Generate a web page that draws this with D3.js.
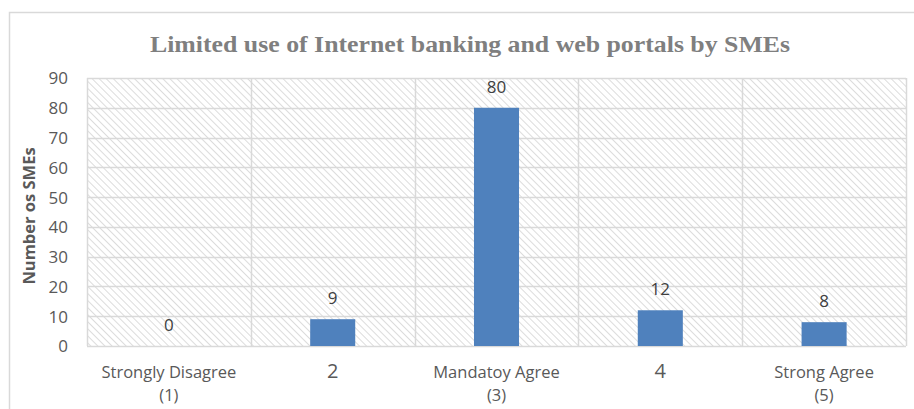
<!DOCTYPE html>
<html>
<head>
<meta charset="utf-8">
<script src="https://cdn.jsdelivr.net/npm/d3@7"></script>
<style>
  html, body { margin: 0; padding: 0; background: #fff; }
  svg { display: block; }
</style>
</head>
<body>
<svg id="chart" width="914" height="409"></svg>
<script>
// Survey responses: limited use of internet banking / web portals
const categories = ["Strongly Disagree\n(1)", "2", "Mandatoy Agree\n(3)", "4", "Strong Agree\n(5)"];
const counts = [0, 9, 80, 12, 8];
const yTicks = [0, 10, 20, 30, 40, 50, 60, 70, 80, 90];
const chartTitle = "Limited use of Internet banking and web portals by SMEs";
const yTitle = "Number os SMEs";

const svg = d3.select("#chart");
const W = 914, H = 409;
const plot = { left: 87, right: 906, top: 78, bottom: 346 };

// outer frame
svg.append("rect")
  .attr("x", 9.5).attr("y", 12.5)
  .attr("width", W + 10).attr("height", H + 10)
  .attr("fill", "#fff").attr("stroke", "#d9d9d9").attr("stroke-width", 1.5);

// diagonal hatch for the plot area
const defs = svg.append("defs");
const pat = defs.append("pattern")
  .attr("id", "hatch")
  .attr("patternUnits", "userSpaceOnUse")
  .attr("width", 5).attr("height", 5)
  .attr("patternTransform", "rotate(45)");
pat.append("rect").attr("width", 5).attr("height", 5).attr("fill", "#fff");
pat.append("line")
  .attr("x1", 0).attr("y1", 0).attr("x2", 5).attr("y2", 0)
  .attr("stroke", "#d4d4d4").attr("stroke-width", 1.6);

const x = d3.scaleBand()
  .domain(categories)
  .range([plot.left, plot.right])
  .paddingInner(0).paddingOuter(0);

const y = d3.scaleLinear().domain([0, 90]).range([plot.bottom, plot.top]);

svg.append("rect")
  .attr("x", plot.left).attr("y", plot.top)
  .attr("width", plot.right - plot.left).attr("height", plot.bottom - plot.top)
  .attr("fill", "url(#hatch)");

// horizontal gridlines
svg.append("g").selectAll("line").data(yTicks).join("line")
  .attr("x1", plot.left).attr("x2", plot.right)
  .attr("y1", d => Math.round(y(d)) + 0.5).attr("y2", d => Math.round(y(d)) + 0.5)
  .attr("stroke", "#d9d9d9").attr("stroke-width", 1.5);

// vertical category separators
const bounds = categories.map(c => x(c)).concat([plot.right]);
svg.append("g").selectAll("line").data(bounds).join("line")
  .attr("x1", d => Math.round(d) + 0.5).attr("x2", d => Math.round(d) + 0.5)
  .attr("y1", plot.top).attr("y2", plot.bottom)
  .attr("stroke", "#d9d9d9").attr("stroke-width", 1.5);

// y-axis tick labels
const yAxis = d3.axisLeft(y).tickValues(yTicks).tickSize(0).tickPadding(0);
const gy = svg.append("g").attr("transform", `translate(${plot.left - 19},0)`).call(yAxis);
gy.select(".domain").remove();
gy.selectAll("text")
  .attr("font-family", "'Open Sans', sans-serif")
  .attr("font-size", 17)
  .attr("fill", "#595959")
  .attr("dy", "0.35em");

// bars
const barW = x.bandwidth() * 0.275;
const data = categories.map((c, i) => ({ c, v: counts[i] }));
svg.append("g").selectAll("rect").data(data).join("rect")
  .attr("x", d => x(d.c) + x.bandwidth() / 2 - barW / 2)
  .attr("y", d => y(d.v))
  .attr("width", barW)
  .attr("height", d => y(0) - y(d.v))
  .attr("fill", "#4f81bd");

// value labels
svg.append("g").selectAll("text").data(data).join("text")
  .attr("x", d => x(d.c) + x.bandwidth() / 2)
  .attr("y", d => y(d.v) - 15)
  .attr("text-anchor", "middle")
  .attr("font-family", "'Open Sans', sans-serif")
  .attr("font-size", 17)
  .attr("fill", "#404040")
  .text(d => d.v);

// category labels (two lines where needed)
const xl = svg.append("g").selectAll("text").data(categories).join("text")
  .attr("text-anchor", "middle")
  .attr("font-family", "'Open Sans', sans-serif")
  .attr("fill", "#595959");
xl.each(function (c) {
  const lines = c.split("\n");
  const t = d3.select(this);
  const cx = x(c) + x.bandwidth() / 2;
  const single = lines.length === 1;
  t.attr("font-size", single ? 20 : 16.5);
  lines.forEach((ln, i) => {
    t.append("tspan").attr("x", cx).attr("y", 378 + i * 22.5).text(ln);
  });
});

// y-axis title
svg.append("text")
  .attr("transform", `translate(35,${(plot.top + plot.bottom) / 2 + 4}) rotate(-90)`)
  .attr("text-anchor", "middle")
  .attr("font-family", "'Open Sans', sans-serif")
  .attr("font-weight", "bold")
  .attr("font-size", 16.5)
  .attr("fill", "#595959")
  .text(yTitle);

// chart title
svg.append("text")
  .attr("x", 470).attr("y", 52)
  .attr("text-anchor", "middle")
  .attr("font-family", "'Liberation Serif', serif")
  .attr("font-weight", "bold")
  .attr("font-size", 23)
  .attr("fill", "#7f7f7f")
  .attr("textLength", 640)
  .attr("lengthAdjust", "spacingAndGlyphs")
  .text(chartTitle);
</script>
</body>
</html>
